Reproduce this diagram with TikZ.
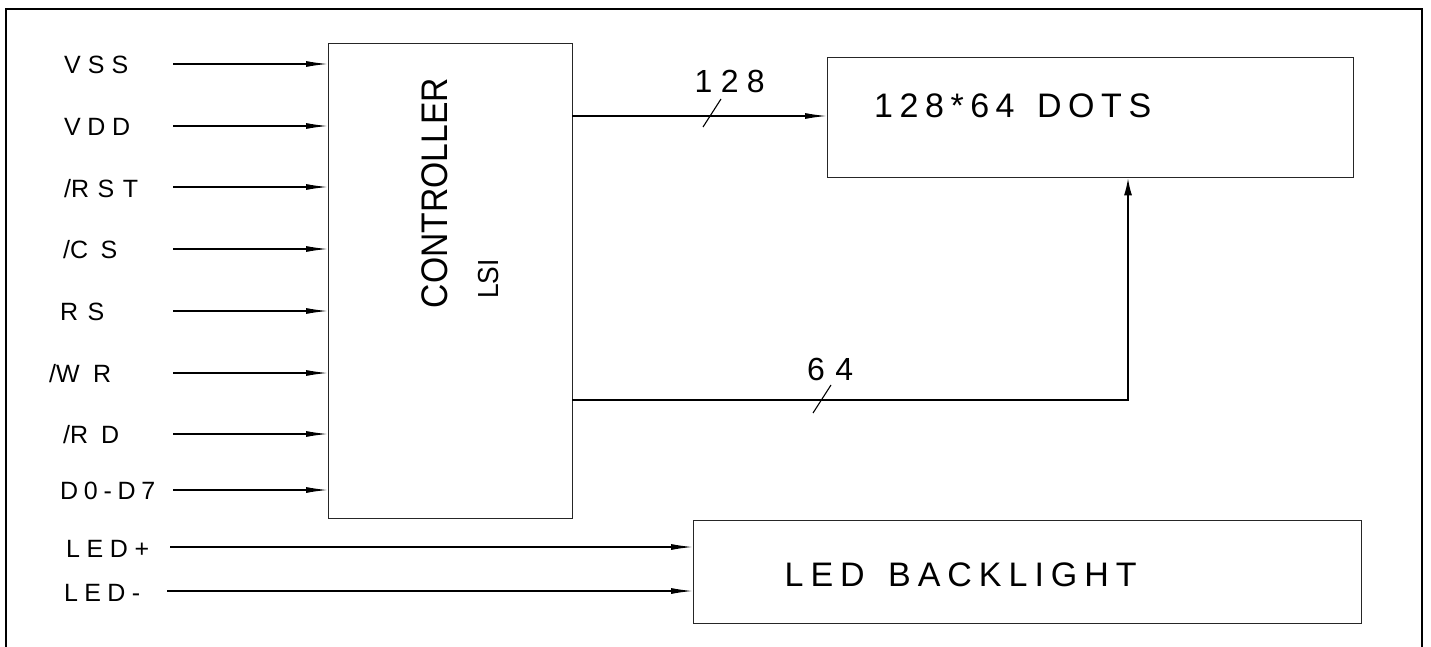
\documentclass[tikz,border=0pt]{standalone}
\usepackage{fontspec}
\setmainfont{Liberation Sans}
\newfontfamily\ctrlfont[FakeStretch=0.91]{Liberation Sans}
\usetikzlibrary{arrows.meta}
% spread the letters of #2 evenly over a width of #1
\newcommand\spread[2]{\makebox[#1][s]{\spreadfirst#2\relax}}
\def\spreadfirst#1{#1\spreadrest}
\def\spreadrest#1{\ifx#1\relax\else\hfil#1\expandafter\spreadrest\fi}
\begin{document}
\begin{tikzpicture}[x=1pt,y=-1pt,
  box/.style={draw=black!85,line width=1.4pt,rectangle,inner sep=0pt,anchor=north west},
  wire/.style={draw=black,line width=1.3pt},
  arr/.style={wire,-{Latex[length=22pt,width=6pt]}},
  uparr/.style={wire,-{Latex[length=17pt,width=8pt]}},
  lbl/.style={anchor=base west,inner sep=0pt,font=\fontsize{25}{30}\selectfont},
  biglbl/.style={anchor=base west,inner sep=0pt,font=\fontsize{34}{40}\selectfont},
  buslbl/.style={anchor=base west,inner sep=0pt,font=\fontsize{32}{38}\selectfont},
  tick/.style={draw=black,line width=1.1pt}]
\useasboundingbox (0,0) rectangle (1431,647);
% outer frame
\draw[line width=2.5pt] (6,647) -- (6,9) -- (1422,9) -- (1422,647);
% boxes
\node[box,minimum width=244pt,minimum height=475pt] (ctrl) at (328,43) {};
\node[box,minimum width=526pt,minimum height=120pt] (dots) at (827,57) {};
\node[box,minimum width=668pt,minimum height=103pt] (led) at (693,520) {};
% box texts
\node[rotate=90,anchor=base,inner sep=0pt,font=\ctrlfont\fontsize{37}{44}\selectfont] (ctrltxt) at (447,193) {CONTROLLER};
\node[rotate=90,anchor=base,inner sep=0pt,font=\ctrlfont\fontsize{29}{34}\selectfont] (lsitxt) at (498,279) {LSI};
\node[biglbl] (dotstxt) at (874,118) {\spread{277pt}{128*64~DOTS}};
\node[biglbl] (ledtxt) at (784.5,586) {\spread{352pt}{LED~BACKLIGHT}};
% input labels
\node[lbl] (lvss) at (64,74) {\spread{64pt}{VSS}};
\node[lbl] (lvdd) at (64,136) {\spread{66pt}{VDD}};
\node[lbl] (lrst) at (64,197) {\spread{74pt}{{/R}ST}};
\node[lbl] (lcs)  at (63,258) {\spread{54pt}{{/C}S}};
\node[lbl] (lrs)  at (60,320) {\spread{44pt}{RS}};
\node[lbl] (lwr)  at (49,382) {\spread{62pt}{{/W}R}};
\node[lbl] (lrd)  at (63,443) {\spread{56pt}{{/R}D}};
\node[lbl] (ld)   at (60,499) {\spread{95pt}{D0-D7}};
\node[lbl] (lledp) at (66,557) {\spread{83pt}{LED+}};
\node[lbl] (lledm) at (64,601) {\spread{76pt}{LED-}};
% input arrows
\coordinate (s1) at (173,64);
\coordinate (s2) at (173,126);
\coordinate (s3) at (173,187);
\coordinate (s4) at (173,249);
\coordinate (s5) at (173,311);
\coordinate (s6) at (173,373);
\coordinate (s7) at (173,434);
\coordinate (s8) at (173,490);
\foreach \s in {s1,s2,s3,s4,s5,s6,s7,s8}
  \draw[arr] (\s) -- (\s -| ctrl.west);
\coordinate (sp) at (170,547);
\coordinate (sm) at (167,591);
\draw[arr] (sp) -- (sp -| led.west);
\draw[arr] (sm) -- (sm -| led.west);
% bus 128
\coordinate (c128) at (572,116);
\draw[arr] (c128) -- (c128 -| dots.west);
\draw[tick] (721,99) -- (703,127);
\node[buslbl] (l128) at (694.5,93) {\spread{70pt}{128}};
% bus 64
\coordinate (c64) at (572,400);
\coordinate (t64) at (1128,400);
\draw[uparr] (c64) -- (t64) -- (t64 |- dots.south);
\draw[tick] (831,385) -- (813,413);
\node[buslbl] (l64) at (807,380) {\spread{46pt}{64}};
\end{tikzpicture}
\end{document}
